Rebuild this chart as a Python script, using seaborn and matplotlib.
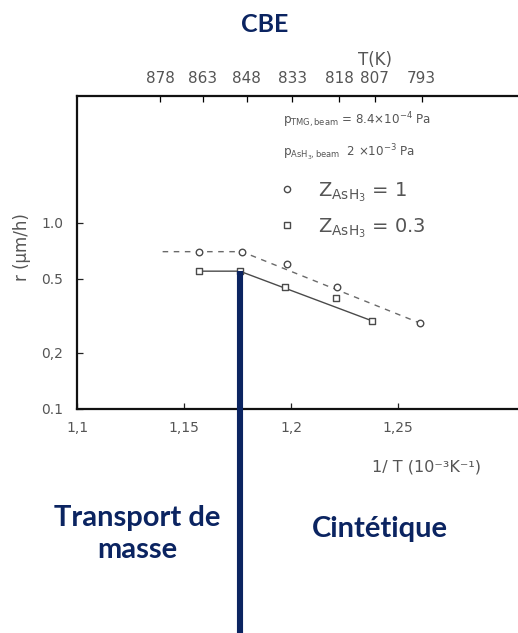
import matplotlib
matplotlib.use("Agg")
import matplotlib.pyplot as plt
from matplotlib.lines import Line2D
from matplotlib.ticker import FixedLocator, FixedFormatter, NullLocator
import seaborn as sns
import pandas as pd

# Growth rate versus inverse temperature (CBE of GaAs)
inv_T_z1 = [1.157, 1.177, 1.198, 1.2215, 1.260]
rate_z1 = [0.70, 0.70, 0.60, 0.45, 0.29]
inv_T_z03 = [1.157, 1.176, 1.197, 1.221, 1.238]
rate_z03 = [0.55, 0.55, 0.45, 0.395, 0.297]

# Guide lines drawn through the data
guide_x_z1 = [1.140, 1.177, 1.260]
guide_y_z1 = [0.70, 0.70, 0.29]
guide_x_z03 = [1.157, 1.176, 1.238]
guide_y_z03 = [0.55, 0.55, 0.297]

x_ticks = [1.10, 1.15, 1.20, 1.25]
x_tick_labels = ["1,1", "1,15", "1,2", "1,25"]
y_ticks = [0.1, 0.2, 0.5, 1.0]
y_tick_labels = ["0.1", "0,2", "0.5", "1.0"]
T_ticks = [878, 863, 848, 833, 818, 807, 793]

NAVY = "#0b2461"
INK = "#555555"

plt.rcParams["mathtext.default"] = "regular"
plt.rcParams["font.family"] = ["DejaVu Sans"]

fig = plt.figure(figsize=(5.18, 6.33), dpi=100)
ax = fig.add_axes([77 / 518, 1 - 409 / 633, 1 - 77 / 518, (409 - 96) / 633])

df_z1 = pd.DataFrame({"x": inv_T_z1, "r": rate_z1})
df_z03 = pd.DataFrame({"x": inv_T_z03, "r": rate_z03})

sns.lineplot(x=guide_x_z1, y=guide_y_z1, ax=ax, sort=False, estimator=None,
             color="#6a6a6a", lw=1.0, linestyle=(0, (4, 4)), zorder=2)
sns.lineplot(x=guide_x_z03, y=guide_y_z03, ax=ax, sort=False, estimator=None,
             color="#4a4a4a", lw=1.0, zorder=2)
sns.scatterplot(data=df_z1, x="x", y="r", ax=ax, marker="o", s=22,
                facecolor="white", edgecolor="#4a4a4a", linewidth=1.0, zorder=3)
sns.scatterplot(data=df_z03, x="x", y="r", ax=ax, marker="s", s=20,
                facecolor="white", edgecolor="#4a4a4a", linewidth=1.0, zorder=3)

ax.set_yscale("log")
ax.set_xlim(1.1, 1.306)
ax.set_ylim(0.1, 4.8)
ax.set_xlabel("")
ax.set_ylabel("")

ax.xaxis.set_major_locator(FixedLocator(x_ticks))
ax.xaxis.set_major_formatter(FixedFormatter(x_tick_labels))
ax.yaxis.set_major_locator(FixedLocator(y_ticks))
ax.yaxis.set_major_formatter(FixedFormatter(y_tick_labels))
ax.yaxis.set_minor_locator(NullLocator())
ax.xaxis.set_minor_locator(NullLocator())
ax.tick_params(axis="both", direction="in", length=4, width=0.9,
               labelsize=10, labelcolor=INK, color="#222222")
ax.tick_params(axis="x", pad=9)
ax.tick_params(axis="y", pad=10)

for side in ("left", "bottom", "top"):
    ax.spines[side].set_linewidth(1.6)
    ax.spines[side].set_color("#111111")
ax.spines["right"].set_visible(False)

# Temperature scale on top
sec = ax.secondary_xaxis("top", functions=(lambda x: 1000 / x, lambda t: 1000 / t))
sec.xaxis.set_major_locator(FixedLocator(T_ticks))
sec.xaxis.set_minor_locator(NullLocator())
sec.tick_params(direction="in", length=4, width=0.9, labelsize=11,
                labelcolor=INK, pad=7)
sec.spines["top"].set_visible(False)

fig.text(375 / 518, 1 - 60 / 633, "T(K)", ha="center", va="center",
         fontsize=12, color=INK)
fig.text(426 / 518, 1 - 467 / 633, "1/ T (10⁻³K⁻¹)", ha="center", va="center",
         fontsize=11.5, color=INK)
fig.text(22 / 518, 1 - 247 / 633, "r (μm/h)", ha="center", va="center",
         rotation=90, fontsize=12, color=INK)

# Beam pressures and series key
fig.text(283 / 518, 1 - 120 / 633, r"$p_{TMG,beam}$ = 8.4×10$^{-4}$ Pa",
         ha="left", va="center", fontsize=8.6, color=INK)
fig.text(283 / 518, 1 - 153 / 633, r"$p_{AsH_3,beam}$  2 ×10$^{-3}$ Pa",
         ha="left", va="center", fontsize=8.6, color=INK)
handles = [
    Line2D([], [], marker="o", linestyle="none", markersize=4.5,
           markerfacecolor="white", markeredgecolor="#4a4a4a"),
    Line2D([], [], marker="s", linestyle="none", markersize=4.2,
           markerfacecolor="white", markeredgecolor="#4a4a4a"),
]
leg = ax.legend(handles, [r"$Z_{AsH_3}$ = 1", r"$Z_{AsH_3}$ = 0.3"],
                loc="upper left", bbox_to_anchor=(275 / 518, 1 - 180 / 633),
                bbox_transform=fig.transFigure, frameon=False, fontsize=14,
                handletextpad=1.0, labelspacing=0.65, handlelength=1.2,
                borderpad=0, borderaxespad=0)
for t in leg.get_texts():
    t.set_color(INK)

# Regime boundary marker and captions
fig.canvas.draw()
bx, by = fig.transFigure.inverted().transform(
    ax.transData.transform((inv_T_z03[1], rate_z03[1])))
fig.add_artist(Line2D([bx, bx], [by, 0.0], transform=fig.transFigure,
                      color=NAVY, lw=4.4, solid_capstyle="butt", zorder=5))

fig.text(265 / 518, 1 - 25 / 633, "CBE", ha="center", va="center",
         fontsize=18, fontweight="bold", color=NAVY, family=["Lato", "DejaVu Sans"])
fig.text(137 / 518, 1 - 534 / 633, "Transport de\nmasse", ha="center", va="center",
         fontsize=21, fontweight="bold", color=NAVY, linespacing=1.28,
         family=["Lato", "DejaVu Sans"])
fig.text(380 / 518, 1 - 529 / 633, "Cintétique", ha="center", va="center",
         fontsize=21, fontweight="bold", color=NAVY, family=["Lato", "DejaVu Sans"])

fig.savefig("out.png", dpi=100)
